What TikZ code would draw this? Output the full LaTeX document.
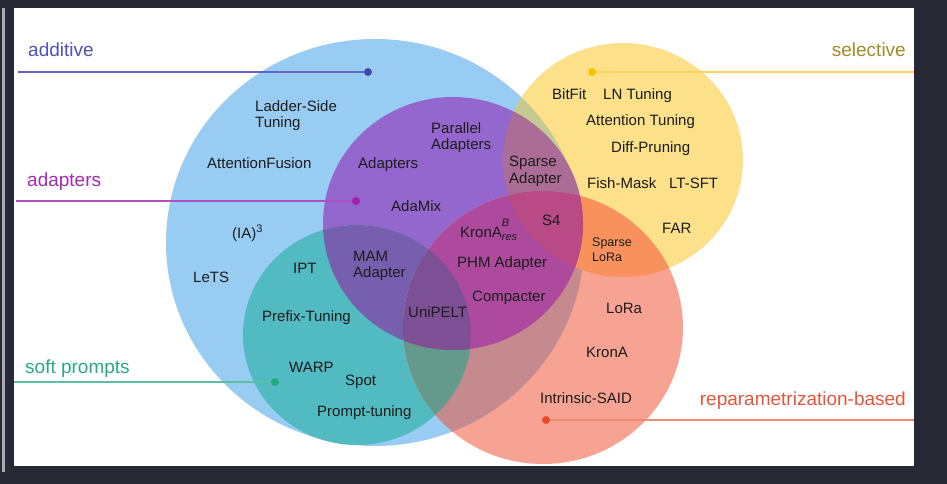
\documentclass[tikz,border=0pt]{standalone}
\usepackage{fontspec}
\setmainfont{Liberation Sans}
\definecolor{bgdark}{HTML}{262833}
\definecolor{stripe}{HTML}{A9AAB2}
\definecolor{ink}{HTML}{1C1C1C}
\definecolor{cB}{HTML}{99CCF3}
\definecolor{cY}{HTML}{FCE08A}
\definecolor{cBY}{HTML}{C6CA92}
\definecolor{cP}{HTML}{9467CF}
\definecolor{cPY}{HTML}{AB6D95}
\definecolor{cT}{HTML}{52BAC1}
\definecolor{cTP}{HTML}{755FAE}
\definecolor{cS}{HTML}{F7A393}
\definecolor{cSB}{HTML}{C58A8E}
\definecolor{cSY}{HTML}{F8915C}
\definecolor{cST}{HTML}{649A8B}
\definecolor{cSP}{HTML}{AE4A9D}
\definecolor{cSPY}{HTML}{B94A86}
\definecolor{cSPT}{HTML}{7D5095}
\definecolor{tAdd}{HTML}{5050B5}
\definecolor{lAdd}{HTML}{6464C8}
\definecolor{dAdd}{HTML}{4545B0}
\definecolor{tAdp}{HTML}{A22BAE}
\definecolor{lAdp}{HTML}{B050C0}
\definecolor{dAdp}{HTML}{A020B0}
\definecolor{tSel}{HTML}{A38B27}
\definecolor{lSel}{HTML}{F7D060}
\definecolor{dSel}{HTML}{F5C000}
\definecolor{tSoft}{HTML}{29A88A}
\definecolor{lSoft}{HTML}{5CC0A8}
\definecolor{dSoft}{HTML}{1FAA80}
\definecolor{tRep}{HTML}{E4563C}
\definecolor{lRep}{HTML}{EE8A78}
\definecolor{dRep}{HTML}{E84A2C}
\newcommand\shB{(375,242.5) ellipse [x radius=209pt, y radius=203.5pt]}
\newcommand\shY{(623,160) ellipse [x radius=120pt, y radius=117pt]}
\newcommand\shP{(453,223.5) ellipse [x radius=130pt, y radius=126.5pt]}
\newcommand\shT{(357,335) ellipse [x radius=114pt, y radius=110pt]}
\newcommand\shS{(543,327.5) ellipse [x radius=140pt, y radius=136.5pt]}
\begin{document}
\begin{tikzpicture}[x=1pt,y=-1pt,
  txt/.style={font=\fontsize{15}{16.5}\selectfont, inner sep=0pt, anchor=west, text=ink},
  one/.style={txt, text height=10.7pt, text depth=0pt},
  two/.style={txt, align=left},
  cat/.style={font=\fontsize{19}{22}\selectfont, inner sep=0pt},
  dotm/.style={circle, inner sep=0pt, minimum size=8pt},
  leader/.style={line width=1.4pt}]
\useasboundingbox (0,0) rectangle (947,484);
\fill[bgdark] (0,0) rectangle (947,484);
\fill[stripe] (2,8) rectangle (5,472);
\fill[white] (14,8) rectangle (914,466);
% circles and their overlaps
\fill[cB] \shB;
\fill[cY] \shY;
\begin{scope}\clip \shB; \fill[cBY] \shY; \end{scope}
\fill[cP] \shP;
\begin{scope}\clip \shP; \fill[cPY] \shY; \end{scope}
\fill[cT] \shT;
\begin{scope}\clip \shT; \fill[cTP] \shP; \end{scope}
\fill[cS] \shS;
\begin{scope}\clip \shS; \fill[cSB] \shB; \end{scope}
\begin{scope}\clip \shS; \fill[cSY] \shY; \end{scope}
\begin{scope}\clip \shS; \fill[cST] \shT; \end{scope}
\begin{scope}\clip \shS; \fill[cSP] \shP; \end{scope}
\begin{scope}\clip \shS; \clip \shP; \fill[cSPY] \shY; \end{scope}
\begin{scope}\clip \shS; \clip \shP; \fill[cSPT] \shT; \end{scope}
% leaders
\coordinate (addE) at (18,72);
\coordinate (addP) at (368,72);
\coordinate (adpE) at (16,201);
\coordinate (adpP) at (356,201);
\coordinate (selE) at (914,72);
\coordinate (selP) at (592,72);
\coordinate (softE) at (14,382);
\coordinate (softP) at (275,382);
\coordinate (repE) at (914,420);
\coordinate (repP) at (546,420);
\draw[leader, lAdd] (addE) -- (addP);
\draw[leader, lAdp] (adpE) -- (adpP);
\draw[leader, lSel] (selE) -- (selP);
\draw[leader, lSoft] (softE) -- (softP);
\draw[leader, lRep] (repE) -- (repP);
\node[dotm, fill=dAdd] (addD) at (addP) {};
\node[dotm, fill=dAdp] (adpD) at (adpP) {};
\node[dotm, fill=dSel] (selD) at (selP) {};
\node[dotm, fill=dSoft] (softD) at (softP) {};
\node[dotm, fill=dRep] (repD) at (repP) {};
% category labels
\node[cat, anchor=base west, text=tAdd] (additive) at (28,57) {additive};
\node[cat, anchor=base west, text=tAdp] (adaptersL) at (27,186) {adapters};
\node[cat, anchor=base east, text=tSel] (selective) at (906,57) {selective};
\node[cat, anchor=base west, text=tSoft] (soft) at (25,373) {soft prompts};
\node[cat, anchor=base east, text=tRep] (repar) at (906,405) {reparametrization-based};
% methods
\node[two] (ladder) at (255,115.5) {Ladder-Side\\Tuning};
\node[one] (attfus) at (207,163) {AttentionFusion};
\node[one] (ia3) at (232,233) {(IA)\raisebox{6pt}{\fontsize{11}{11}\selectfont 3}};
\node[one] (lets) at (193,277) {LeTS};
\node[one] (ipt) at (293,268) {IPT};
\node[one] (prefix) at (262,316) {Prefix-Tuning};
\node[one] (warp) at (289,367) {WARP};
\node[one] (spot) at (345,380) {Spot};
\node[one] (prompt) at (317,411) {Prompt-tuning};
\node[one] (adapters) at (358,163) {Adapters};
\node[two] (parallel) at (431,137.5) {Parallel\\Adapters};
\node[one] (adamix) at (391,206) {AdaMix};
\node[two] (mam) at (353,266) {MAM\\Adapter};
\node[one] (unipelt) at (408,312) {UniPELT};
\node[one] (krona) at (460,232) {KronA\rlap{\raisebox{11pt}{\fontsize{11}{11}\selectfont\itshape B}}\raisebox{-3pt}{\fontsize{11}{11}\selectfont\itshape res}};
\node[one] (phm) at (457,262) {PHM Adapter};
\node[one] (compacter) at (472,296) {Compacter};
\node[two] (sparseA) at (509,171.5) {Sparse\\Adapter};
\node[one] (s4) at (542,220) {S4};
\node[one] (bitfit) at (552,94) {BitFit};
\node[one] (ln) at (603,94) {LN Tuning};
\node[one] (atttun) at (586,120) {Attention Tuning};
\node[one] (diff) at (611,147) {Diff-Pruning};
\node[one] (fish) at (587,183) {Fish-Mask};
\node[one] (ltsft) at (669,183) {LT-SFT};
\node[one] (far) at (662,228) {FAR};
\node[two, font=\fontsize{12.5}{15}\selectfont] (sparseL) at (592,250) {Sparse\\LoRa};
\node[one] (lora) at (606,308) {LoRa};
\node[one] (kronaR) at (586,352) {KronA};
\node[one] (said) at (540,398) {Intrinsic-SAID};
\end{tikzpicture}
\end{document}
